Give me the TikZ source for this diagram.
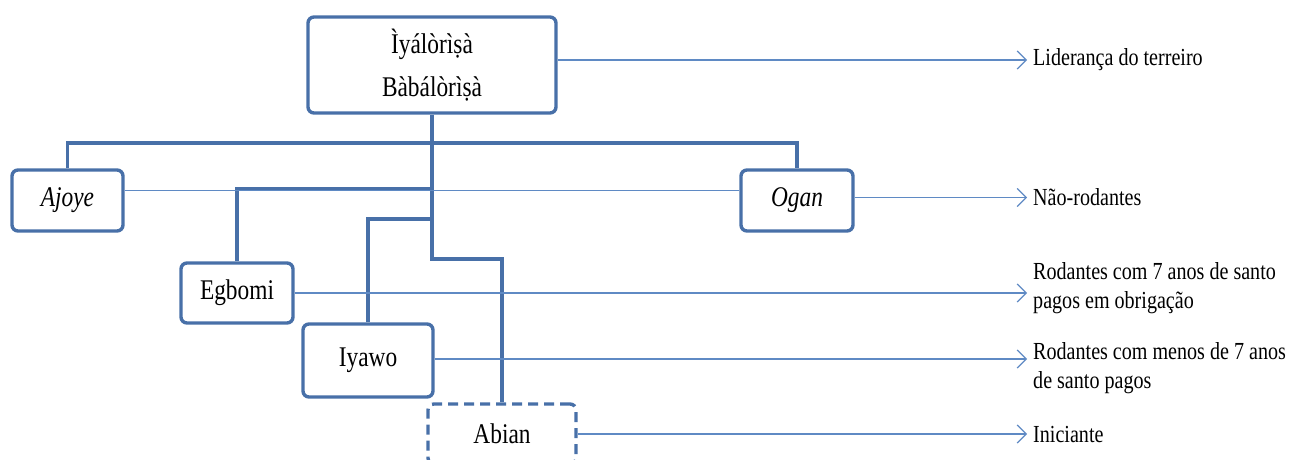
\documentclass[tikz,border=0pt]{standalone}
\usepackage{fontspec}
\setmainfont[FakeStretch=0.82]{Liberation Serif}
\usetikzlibrary{arrows.meta}
\definecolor{frame}{RGB}{72,112,168}
\definecolor{thin}{RGB}{95,138,196}
\tikzset{
  rank/.style={draw=frame, line width=3.4pt, rounded corners=6pt, fill=white,
    inner sep=0pt, align=center, font=\fontsize{28.5}{43}\selectfont},
  dashrank/.style={rank, dash pattern=on 10pt off 6pt},
  tree/.style={draw=frame, line width=3.2pt},
  link/.style={draw=thin, line width=1.2pt},
  pointer/.style={link, -{Straight Barb[length=9pt,width=18pt,line width=1.2pt]}, shorten >=6pt},
  role/.style={anchor=west, inner sep=0pt, align=left,
    font=\fontsize{24.5}{29}\selectfont}
}
\begin{document}
\begin{tikzpicture}[x=1pt,y=-1pt]
\useasboundingbox (0,0) rectangle (1294,459);

% ranks
\node[rank, minimum width=248, minimum height=96] (top) at (432,65)
  {Ìyálòrìṣà\\Bàbálòrìṣà};
\node[rank, minimum width=111, minimum height=61] (ajoye) at (67.5,200.5) {\itshape Ajoye};
\node[rank, minimum width=112, minimum height=61] (ogan) at (797,200.5) {\itshape Ogan};
\node[rank, minimum width=112, minimum height=60] (egbomi) at (237,293) {Egbomi};
\node[rank, minimum width=130, minimum height=73] (iyawo) at (368,360.5) {Iyawo};
\node[dashrank, minimum width=148, minimum height=60] (abian) at (502,434) {Abian};

% role descriptions
\node[role] (lid) at (1033,60) {Liderança do terreiro};
\node[role] (nao) at (1033,197) {Não-rodantes};
\node[role, anchor=north west] (r7) at (1033,262) {Rodantes com 7 anos de santo\\pagos em obrigação};
\node[role, anchor=north west] (rm) at (1033,342) {Rodantes com menos de 7 anos\\de santo pagos};
\node[role] (ini) at (1033,434) {Iniciante};

% hierarchy tree
\coordinate (bar) at (432,143);
\coordinate (eg) at (432,189);
\coordinate (iy) at (432,219);
\coordinate (ab) at (432,259);
\draw[tree] (ajoye.north) |- (bar) -| (ogan.north);
\draw[tree] (top.south) -- (ab) -| (abian.north);
\draw[tree] (egbomi.north) |- (eg);
\draw[tree] (iyawo.north) |- (iy);

% links to the role descriptions (yshift is in canvas points: positive = up)
\draw[link] ([yshift=10]ajoye.east) -- ([yshift=10]ogan.west);
\draw[pointer] ([yshift=5]top.east) -- ([yshift=5]top.east -| lid.west);
\draw[pointer] ([yshift=3]ogan.east) -- ([yshift=3]ogan.east -| nao.west);
\draw[pointer] (egbomi.east) -- (egbomi.east -| r7.west);
\draw[pointer] ([yshift=1.5]iyawo.east) -- ([yshift=1.5]iyawo.east -| rm.west);
\draw[pointer] (abian.east) -- (abian.east -| ini.west);
\end{tikzpicture}
\end{document}
